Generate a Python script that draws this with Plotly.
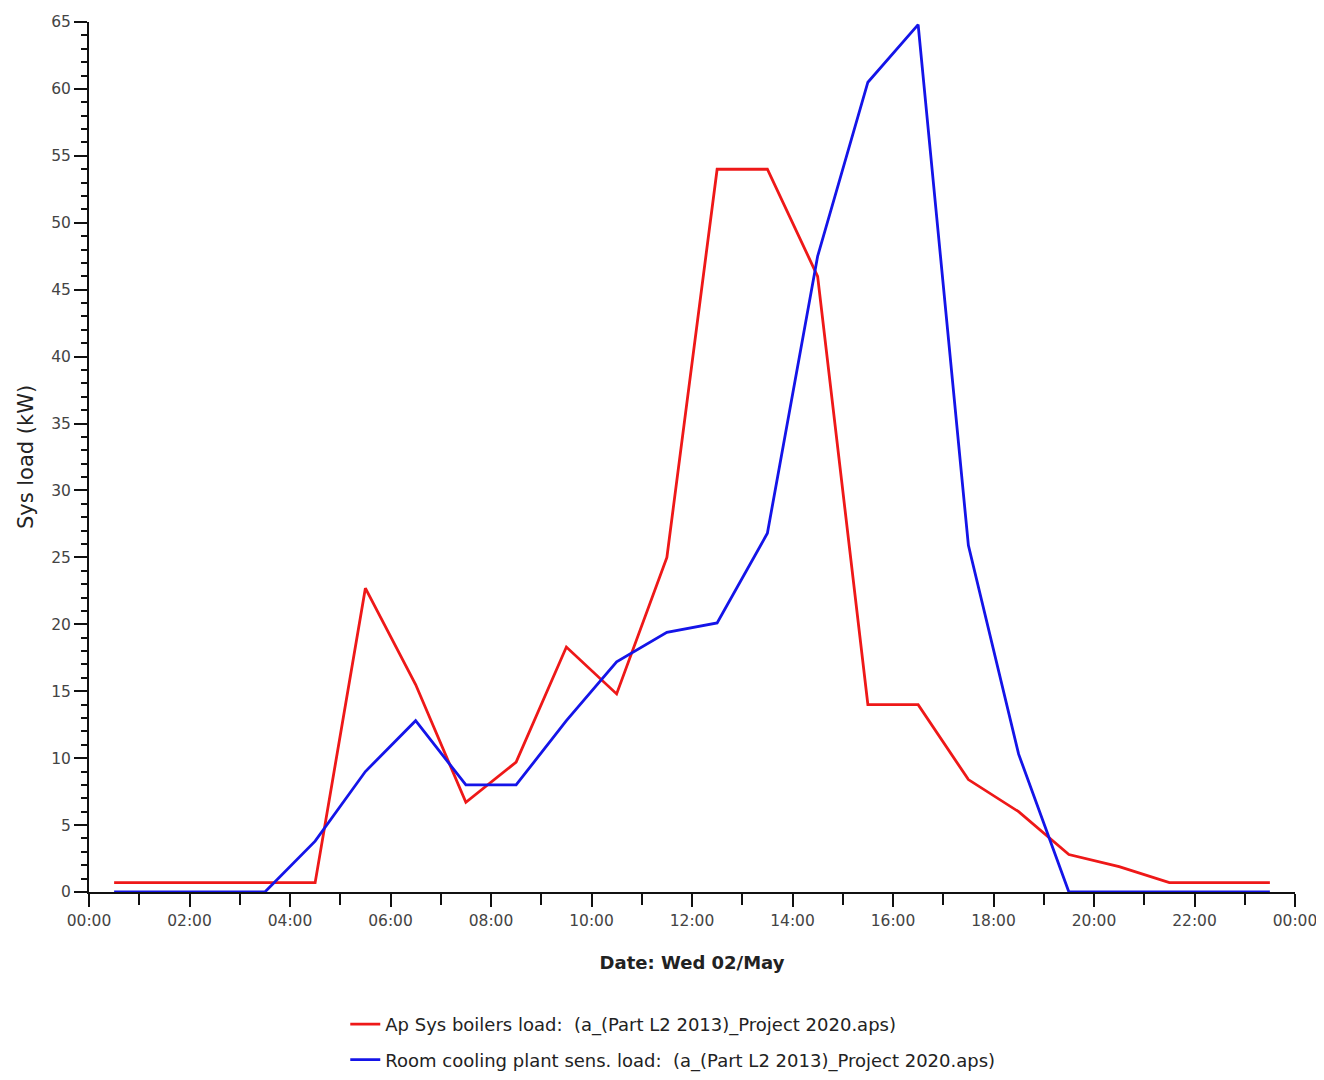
import plotly.graph_objects as go
import pandas as pd

# Half-hourly timestamps (Wed 02 May)
times = [f"2018-05-02 {h:02d}:30" for h in range(24)]

boilers_load = [0.7, 0.7, 0.7, 0.7, 0.7, 22.7, 15.5, 6.7, 9.7, 18.3, 14.8, 25.0,
                54.0, 54.0, 46.0, 14.0, 14.0, 8.4, 6.0, 2.8, 1.9, 0.7, 0.7, 0.7]
cooling_load = [0.0, 0.0, 0.0, 0.0, 3.8, 9.0, 12.8, 8.0, 8.0, 12.8, 17.2, 19.4,
                20.1, 26.8, 47.5, 60.5, 64.8, 25.9, 10.3, 0.0, 0.0, 0.0, 0.0, 0.0]

series_names = [
    "Ap Sys boilers load:  (a_(Part L2 2013)_Project 2020.aps)",
    "Room cooling plant sens. load:  (a_(Part L2 2013)_Project 2020.aps)",
]

x = pd.to_datetime(times)

fig = go.Figure()
fig.add_trace(go.Scatter(x=x, y=boilers_load, mode="lines", name=series_names[0],
                         legendgroup="a", line=dict(color="#ee1818", width=2.8)))
fig.add_trace(go.Scatter(x=x, y=cooling_load, mode="lines", name=series_names[1],
                         legendgroup="b", line=dict(color="#1414e8", width=2.8)))

FONT = "DejaVu Sans, Verdana, sans-serif"
tickfont = dict(family=FONT, size=15.5, color="#444444")

fig.update_layout(
    width=1308, height=1064,
    margin=dict(l=81, r=21, t=14, b=180, autoexpand=False),
    plot_bgcolor="white", paper_bgcolor="white",
    showlegend=True,
    legend=dict(orientation="v", x=0.2125, xanchor="left", y=-0.131, yanchor="top",
                font=dict(family=FONT, size=18, color="#222222"),
                tracegroupgap=9, traceorder="grouped", itemwidth=30,
                bgcolor="rgba(0,0,0,0)"),
    xaxis=dict(
        range=[pd.Timestamp("2018-05-02 00:00"), pd.Timestamp("2018-05-03 00:00")],
        tickformat="%H:%M", dtick=2 * 3600 * 1000,
        tick0=pd.Timestamp("2018-05-02 00:00"),
        ticks="outside", ticklen=13, tickwidth=2, tickcolor="#111111",
        minor=dict(dtick=3600 * 1000, ticks="outside", ticklen=11, tickwidth=2, tickcolor="#111111"),
        showline=True, linecolor="#111111", linewidth=2,
        showgrid=False, zeroline=False, automargin=False,
        ticklabeloverflow="allow",
        tickfont=tickfont,
        title=dict(text="<b>Date: Wed 02/May</b>", standoff=28,
                   font=dict(family=FONT, size=18, color="#222222")),
    ),
    yaxis=dict(
        range=[0, 65], dtick=5, tick0=0,
        ticks="outside", ticklen=13, tickwidth=2, tickcolor="#111111",
        minor=dict(dtick=1, ticks="outside", ticklen=6, tickwidth=2, tickcolor="#111111"),
        showline=True, linecolor="#111111", linewidth=2,
        showgrid=False, zeroline=False, automargin=False,
        tickfont=tickfont,
        title=dict(text="Sys load (kW)", standoff=12,
                   font=dict(family=FONT, size=21, color="#222222")),
    ),
)

fig.write_html("out.html")
